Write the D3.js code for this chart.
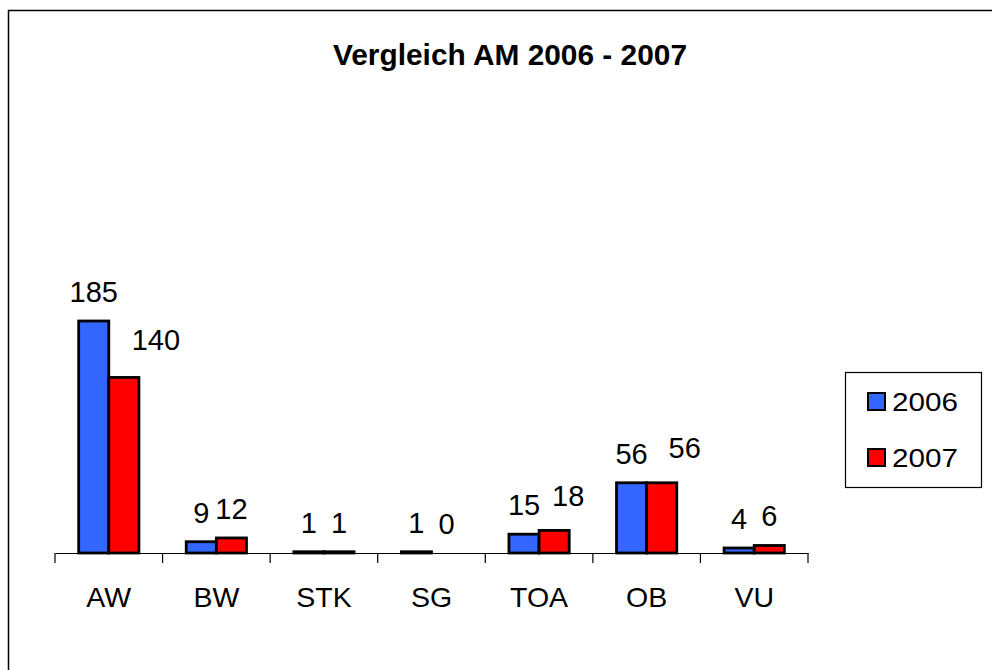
<!DOCTYPE html>
<html>
<head>
<meta charset="utf-8">
<script src="https://cdn.jsdelivr.net/npm/d3@7"></script>
<style>
	body { margin: 0; background: #fff; }
	svg { display: block; font-family: 'Liberation Sans', Arial, sans-serif; }
</style>
</head>
<body>
<div class="content"></div>
<script>
const w = 992;
const h = 670;

const categories = ['AW', 'BW', 'STK', 'SG', 'TOA', 'OB', 'VU'];
const years = ['2006', '2007'];
const values2006 = [185, 9, 1, 1, 15, 56, 4];
const values2007 = [140, 12, 1, 0, 18, 56, 6];
const colors = ['#3366ff', '#ff0000'];

// labels Excel-style moved by hand in the original
const nudge = { 'AW-2007': [32, -8], 'TOA-2007': [14, -5], 'OB-2007': [23, -6] };

const rows = categories.map((c, i) => ({ cat: c, vals: [values2006[i], values2007[i]] }));

const svg = d3.select('.content').append('svg')
	.attr('width', w)
	.attr('height', h);

// chart frame
svg.append('rect')
	.attr('x', 8.5)
	.attr('y', 10.5)
	.attr('width', 1000)
	.attr('height', 700)
	.attr('fill', '#fff')
	.attr('stroke', '#000')
	.attr('stroke-width', 1.5);

svg.append('text')
	.attr('x', 510)
	.attr('y', 65)
	.attr('text-anchor', 'middle')
	.attr('font-size', 29)
	.attr('font-weight', 'bold')
	.attr('textLength', 354)
	.attr('lengthAdjust', 'spacingAndGlyphs')
	.text('Vergleich AM 2006 - 2007');

const xOuter = d3.scaleBand()
	.domain(categories)
	.range([55, 808]);

const x0 = d3.scaleBand()
	.domain(categories)
	.range([55, 808])
	.paddingInner(0.44)
	.paddingOuter(0.22);

const x1 = d3.scaleBand()
	.domain(years)
	.range([0, x0.bandwidth()]);

const y = d3.scaleLinear()
	.domain([0, 200])
	.range([553, 302.2]);

const groups = svg.selectAll('.grp')
	.data(rows)
	.enter()
	.append('g')
	.attr('class', 'grp')
	.attr('transform', (d) => 'translate(' + x0(d.cat) + ',0)');

groups.selectAll('rect')
	.data((d) => d.vals.map((v, i) => ({ cat: d.cat, year: years[i], v: v, i: i })))
	.enter()
	.filter((d) => d.v > 0)
	.append('rect')
	.attr('x', (d) => x1(d.year))
	.attr('y', (d) => y(d.v))
	.attr('width', x1.bandwidth())
	.attr('height', (d) => y(0) - y(d.v))
	.attr('fill', (d) => colors[d.i])
	.attr('stroke', '#000')
	.attr('stroke-width', 2.8);

groups.selectAll('text')
	.data((d) => d.vals.map((v, i) => ({ cat: d.cat, year: years[i], v: v })))
	.enter()
	.append('text')
	.attr('x', (d) => x1(d.year) + x1.bandwidth() / 2 + (nudge[d.cat + '-' + d.year] || [0, 0])[0])
	.attr('y', (d) => y(d.v) - 19 + (nudge[d.cat + '-' + d.year] || [0, 0])[1])
	.attr('text-anchor', 'middle')
	.attr('font-size', 29)
	.text((d) => d.v);

// category axis
const xAxis = d3.axisBottom(xOuter).tickSize(0).tickPadding(34);

const axisG = svg.append('g')
	.attr('transform', 'translate(0,553)')
	.call(xAxis);

axisG.select('.domain').attr('stroke', '#000').attr('stroke-width', 1.2);
axisG.selectAll('.tick text')
	.attr('font-size', 28.5)
	.attr('font-family', "'Liberation Sans', Arial, sans-serif")
	.attr('fill', '#000');

const bounds = categories.map((c) => xOuter(c)).concat([xOuter.range()[1]]);
axisG.selectAll('.bound')
	.data(bounds)
	.enter()
	.append('line')
	.attr('class', 'bound')
	.attr('x1', (d) => d)
	.attr('x2', (d) => d)
	.attr('y1', 0)
	.attr('y2', 10)
	.attr('stroke', '#000')
	.attr('stroke-width', 1.2);

// legend
const legend = svg.append('g').attr('id', 'legend');
legend.append('rect')
	.attr('x', 845.5)
	.attr('y', 372.5)
	.attr('width', 136)
	.attr('height', 115)
	.attr('fill', '#fff')
	.attr('stroke', '#000')
	.attr('stroke-width', 1.2);

const items = legend.selectAll('.item')
	.data(years)
	.enter()
	.append('g')
	.attr('class', 'item')
	.attr('transform', (d, i) => 'translate(868,' + (393 + i * 56) + ')');

items.append('rect')
	.attr('width', 17)
	.attr('height', 17)
	.attr('fill', (d, i) => colors[i])
	.attr('stroke', '#000')
	.attr('stroke-width', 2);

items.append('text')
	.attr('x', 24)
	.attr('y', 17.5)
	.attr('font-size', 26)
	.attr('textLength', 66)
	.attr('lengthAdjust', 'spacingAndGlyphs')
	.text((d) => d);
</script>
</body>
</html>
